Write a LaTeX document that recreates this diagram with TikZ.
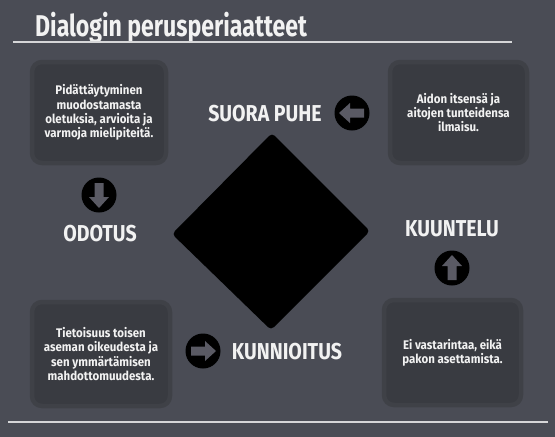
\documentclass[tikz,border=0pt]{standalone}
\usepackage{fontspec}
\setmainfont{Fira Sans}
\newfontfamily\titlefont{Fira Sans}[FakeStretch=0.77]
\newfontfamily\labelfont{Fira Sans}[FakeStretch=0.85]
\newfontfamily\boxfont{Fira Sans}[FakeStretch=0.92]
\definecolor{bgcol}{HTML}{4A4C55}
\definecolor{boxfill}{HTML}{393B41}
\definecolor{boxrim}{HTML}{3F4147}
\definecolor{arrowgray}{HTML}{5A5A64}
\definecolor{txtcol}{HTML}{F2F2F2}
\definecolor{linecol}{HTML}{D6D6D8}
\tikzset{
  infobox/.style={draw=boxrim, fill=boxfill, line width=4.5pt, rounded corners=10pt,
    text=txtcol, align=center, inner sep=0pt,
    font=\boxfont\bfseries\fontsize{12.5}{14.3}\selectfont},
  biglabel/.style={text=txtcol, inner sep=0pt, font=\labelfont\bfseries\fontsize{23}{23}\selectfont},
  iconcircle/.style={circle, fill=black, minimum size=35pt, inner sep=0pt},
  arrowshape/.style={fill=arrowgray}
}
\newcommand{\arrowglyph}[2]{%
  \fill[arrowshape, shift={(#1.center)}, rotate=#2]
    (-13pt,0pt) -- (-2pt,-10pt) -- (-2pt,-4.5pt) -- (12pt,-4.5pt) -- (12pt,4.5pt)
    -- (-2pt,4.5pt) -- (-2pt,10pt) -- cycle;}
\begin{document}
\begin{tikzpicture}[x=1pt,y=-1pt]
\fill[bgcol] (0,0) rectangle (555,437);
\useasboundingbox (0,0) rectangle (555,437);

% title and rules
\node[anchor=base west, text=txtcol, inner sep=0pt,
  font=\titlefont\bfseries\fontsize{30}{30}\selectfont] (title) at (35,36) {Dialogin perusperiaatteet};
\coordinate (tl1) at (13,42);
\coordinate (tl2) at (512,42);
\draw[linecol, line width=1.5pt] (tl1) -- (tl2);
\coordinate (bl1) at (8,422);
\coordinate (bl2) at (548,422);
\draw[linecol, line width=1.5pt] (bl1) -- (bl2);

% boxes
\node[infobox, minimum width=134pt, minimum height=101pt] (boxtl) at (99,112.5)
  {Pidättäytyminen\\muodostamasta\\oletuksia, arvioita ja\\varmoja mielipiteitä.};
\node[infobox, minimum width=137pt, minimum height=101pt] (boxtr) at (458.5,112.5)
  {Aidon itsensä ja\\aitojen tunteidensa\\ilmaisu.};
\node[infobox, minimum width=138pt, minimum height=104pt] (boxbl) at (101,354)
  {Tietoisuus toisen\\aseman oikeudesta ja\\sen ymmärtämisen\\mahdottomuudesta.};
\node[infobox, minimum width=137pt, minimum height=105pt] (boxbr) at (452.5,352.5)
  {Ei vastarintaa, eikä\\pakon asettamista.};

% diamond
\coordinate (dt) at (272,133);
\coordinate (dr) at (370,231);
\coordinate (db) at (271,330);
\coordinate (dl) at (172,234);
\fill[black, rounded corners=4pt] (dt) -- (dr) -- (db) -- (dl) -- cycle;

% labels
\node[biglabel] (suora) at (265,114) {SUORA PUHE};
\node[biglabel] (odotus) at (100,234) {ODOTUS};
\node[biglabel] (kuuntelu) at (452,229) {KUUNTELU};
\node[biglabel] (kunnioitus) at (287,352) {KUNNIOITUS};

% arrow icons
\node[iconcircle] (arrleft) at (352,113) {};
\arrowglyph{arrleft}{0}
\node[iconcircle] (arrdown) at (99,195) {};
\arrowglyph{arrdown}{90}
\node[iconcircle] (arrup) at (452,268) {};
\arrowglyph{arrup}{-90}
\node[iconcircle] (arrright) at (203,351) {};
\arrowglyph{arrright}{180}
\end{tikzpicture}
\end{document}
